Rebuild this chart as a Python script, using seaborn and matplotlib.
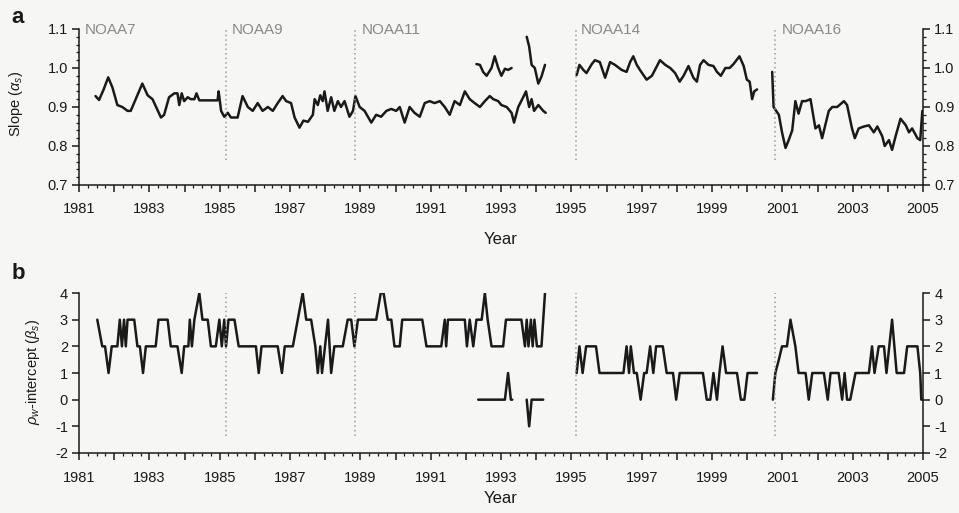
import matplotlib
matplotlib.use("Agg")
import matplotlib.pyplot as plt
import seaborn as sns
import pandas as pd
import numpy as np
from matplotlib.ticker import MultipleLocator, FixedLocator

# ---------------- data (decimal year, value) ----------------
slope_main = [
    (1981.47, 0.928), (1981.57, 0.918), (1981.70, 0.945), (1981.83, 0.976), (1981.95, 0.950),
    (1982.09, 0.905), (1982.23, 0.900), (1982.38, 0.890), (1982.47, 0.890), (1982.80, 0.960),
    (1982.95, 0.930), (1983.09, 0.920), (1983.33, 0.873), (1983.42, 0.880), (1983.56, 0.925),
    (1983.71, 0.935), (1983.80, 0.935), (1983.85, 0.905), (1983.92, 0.935), (1983.99, 0.915),
    (1984.09, 0.925), (1984.18, 0.920), (1984.28, 0.920), (1984.34, 0.935), (1984.42, 0.917),
    (1984.94, 0.917), (1984.97, 0.940), (1985.04, 0.890), (1985.13, 0.875), (1985.23, 0.885),
    (1985.32, 0.873), (1985.51, 0.873), (1985.65, 0.928), (1985.80, 0.900), (1985.94, 0.890),
    (1986.08, 0.910), (1986.22, 0.890), (1986.37, 0.900), (1986.51, 0.890), (1986.65, 0.910),
    (1986.79, 0.928), (1986.89, 0.915), (1987.03, 0.910), (1987.13, 0.873), (1987.27, 0.847),
    (1987.38, 0.865), (1987.51, 0.862), (1987.65, 0.880), (1987.70, 0.920), (1987.79, 0.905),
    (1987.86, 0.930), (1987.93, 0.915), (1987.98, 0.940), (1988.07, 0.890), (1988.17, 0.925),
    (1988.26, 0.890), (1988.36, 0.915), (1988.45, 0.900), (1988.55, 0.915), (1988.69, 0.875),
    (1988.79, 0.890), (1988.86, 0.928), (1988.98, 0.900), (1989.12, 0.890), (1989.31, 0.860),
    (1989.45, 0.880), (1989.59, 0.875), (1989.74, 0.890), (1989.88, 0.895), (1990.02, 0.890),
    (1990.12, 0.900), (1990.26, 0.860), (1990.40, 0.900), (1990.54, 0.885), (1990.69, 0.875),
    (1990.83, 0.910), (1990.97, 0.915), (1991.11, 0.910), (1991.26, 0.915), (1991.40, 0.900),
    (1991.54, 0.880), (1991.68, 0.915), (1991.83, 0.905), (1991.97, 0.940), (1992.11, 0.920),
    (1992.25, 0.910), (1992.40, 0.900), (1992.54, 0.915), (1992.68, 0.928), (1992.78, 0.920),
    (1992.92, 0.915), (1993.01, 0.905), (1993.16, 0.900), (1993.30, 0.885), (1993.37, 0.860),
    (1993.49, 0.900), (1993.63, 0.925), (1993.71, 0.940), (1993.80, 0.900), (1993.87, 0.920),
    (1993.94, 0.890), (1994.06, 0.905), (1994.20, 0.890), (1994.27, 0.885),
]
slope_alt1 = [
    (1992.30, 1.010), (1992.40, 1.008), (1992.49, 0.990), (1992.59, 0.980), (1992.73, 1.000),
    (1992.82, 1.030), (1992.92, 1.000), (1993.01, 0.980), (1993.11, 0.998), (1993.20, 0.995),
    (1993.30, 1.000),
]
slope_alt2 = [
    (1993.73, 1.080), (1993.80, 1.055), (1993.87, 1.008), (1993.96, 1.000), (1994.06, 0.960),
    (1994.15, 0.978), (1994.25, 1.008),
]
slope_n14 = [
    (1995.15, 0.982), (1995.23, 1.008), (1995.34, 0.995), (1995.43, 0.987), (1995.58, 1.010),
    (1995.67, 1.020), (1995.81, 1.015), (1995.96, 0.975), (1996.10, 1.015), (1996.24, 1.008),
    (1996.43, 0.995), (1996.57, 0.990), (1996.67, 1.015), (1996.76, 1.030), (1996.86, 1.008),
    (1996.95, 0.995), (1997.14, 0.970), (1997.29, 0.980), (1997.52, 1.020), (1997.67, 1.008),
    (1997.81, 1.000), (1997.95, 0.987), (1998.08, 0.965), (1998.19, 0.980), (1998.33, 1.005),
    (1998.47, 0.975), (1998.57, 0.965), (1998.66, 1.008), (1998.76, 1.020), (1998.90, 1.008),
    (1999.04, 1.005), (1999.14, 0.990), (1999.25, 0.980), (1999.38, 1.000), (1999.50, 1.000),
    (1999.61, 1.010), (1999.78, 1.030), (1999.90, 1.005), (1999.99, 0.970), (2000.07, 0.965),
    (2000.14, 0.920), (2000.20, 0.940), (2000.28, 0.945),
]
slope_n16 = [
    (2000.71, 0.990), (2000.75, 0.900), (2000.90, 0.880), (2000.99, 0.835), (2001.09, 0.795),
    (2001.18, 0.815), (2001.28, 0.840), (2001.37, 0.915), (2001.46, 0.883), (2001.56, 0.915),
    (2001.66, 0.915), (2001.80, 0.920), (2001.94, 0.845), (2002.04, 0.853), (2002.13, 0.820),
    (2002.23, 0.857), (2002.32, 0.890), (2002.42, 0.900), (2002.56, 0.900), (2002.75, 0.915),
    (2002.84, 0.905), (2002.98, 0.845), (2003.06, 0.820), (2003.17, 0.845), (2003.32, 0.850),
    (2003.46, 0.853), (2003.60, 0.835), (2003.70, 0.850), (2003.84, 0.825), (2003.91, 0.800),
    (2004.03, 0.815), (2004.12, 0.790), (2004.22, 0.825), (2004.36, 0.870), (2004.51, 0.853),
    (2004.60, 0.835), (2004.69, 0.845), (2004.84, 0.820), (2004.92, 0.815), (2004.98, 0.890),
    (2005.00, 0.885),
]

icpt_main = [
    (1981.52, 3), (1981.66, 2), (1981.74, 2), (1981.84, 1), (1981.93, 2), (1982.09, 2),
    (1982.16, 3), (1982.22, 2), (1982.28, 3), (1982.33, 2), (1982.38, 3), (1982.57, 3),
    (1982.66, 2), (1982.73, 2), (1982.82, 1), (1982.90, 2), (1983.18, 2), (1983.26, 3),
    (1983.52, 3), (1983.61, 2), (1983.80, 2), (1983.92, 1), (1983.99, 2), (1984.11, 2),
    (1984.15, 3), (1984.21, 2), (1984.28, 3), (1984.42, 4), (1984.51, 3), (1984.66, 3),
    (1984.75, 2), (1984.89, 2), (1984.99, 3), (1985.06, 2), (1985.13, 3), (1985.18, 2),
    (1985.25, 3), (1985.42, 3), (1985.54, 2), (1986.03, 2), (1986.11, 1), (1986.19, 2),
    (1986.65, 2), (1986.77, 1), (1986.85, 2), (1987.08, 2), (1987.22, 3), (1987.36, 4),
    (1987.46, 3), (1987.60, 3), (1987.72, 2), (1987.79, 1), (1987.86, 2), (1987.91, 1),
    (1988.08, 3), (1988.17, 1), (1988.26, 2), (1988.50, 2), (1988.64, 3), (1988.74, 3),
    (1988.83, 2), (1988.93, 3), (1989.45, 3), (1989.58, 4), (1989.66, 4), (1989.78, 3),
    (1989.88, 3), (1989.97, 2), (1990.12, 2), (1990.19, 3), (1990.76, 3), (1990.88, 2),
    (1991.30, 2), (1991.40, 3), (1991.44, 2), (1991.49, 3), (1991.97, 3), (1992.03, 2),
    (1992.11, 3), (1992.21, 2), (1992.30, 3), (1992.45, 3), (1992.54, 4), (1992.62, 3),
    (1992.73, 2), (1993.06, 2), (1993.14, 3), (1993.58, 3), (1993.68, 2), (1993.73, 3),
    (1993.78, 2), (1993.85, 3), (1993.90, 2), (1993.95, 3), (1994.02, 2), (1994.15, 2),
    (1994.25, 4),
]
icpt_alt1 = [(1992.35, 0), (1993.11, 0), (1993.20, 1), (1993.28, 0), (1993.32, 0)]
icpt_alt2 = [(1993.73, 0), (1993.80, -1), (1993.87, 0), (1994.20, 0)]
icpt_n14 = [
    (1995.15, 1), (1995.23, 2), (1995.32, 1), (1995.42, 2), (1995.70, 2), (1995.80, 1),
    (1996.48, 1), (1996.57, 2), (1996.64, 1), (1996.69, 2), (1996.78, 1), (1996.86, 1),
    (1996.97, 0), (1997.07, 1), (1997.14, 1), (1997.24, 2), (1997.33, 1), (1997.41, 2),
    (1997.60, 2), (1997.71, 1), (1997.89, 1), (1997.98, 0), (1998.08, 1), (1998.74, 1),
    (1998.85, 0), (1998.95, 0), (1999.04, 1), (1999.14, 0), (1999.21, 1), (1999.30, 2),
    (1999.40, 1), (1999.71, 1), (1999.82, 0), (1999.92, 0), (2000.01, 1), (2000.28, 1),
]
icpt_n16 = [
    (2000.73, 0), (2000.80, 1), (2000.90, 1.5), (2000.99, 2), (2001.13, 2), (2001.23, 3),
    (2001.37, 2), (2001.46, 1), (2001.66, 1), (2001.75, 0), (2001.85, 1), (2002.18, 1),
    (2002.29, 0), (2002.37, 1), (2002.60, 1), (2002.70, 0), (2002.77, 1), (2002.84, 0),
    (2002.93, 0), (2003.08, 1), (2003.46, 1), (2003.55, 2), (2003.62, 1), (2003.74, 2),
    (2003.89, 2), (2003.96, 1), (2004.12, 3), (2004.25, 1), (2004.46, 1), (2004.55, 2),
    (2004.84, 2), (2004.92, 1), (2004.95, 0), (2005.00, 0),
]

satellites = ["NOAA7", "NOAA9", "NOAA11", "NOAA14", "NOAA16"]
satellite_label_years = [1981.17, 1985.33, 1989.03, 1995.28, 2000.97]
switch_years = [1985.18, 1988.86, 1995.12, 2000.80]
year_ticks_labelled = list(range(1981, 2006, 2))


def to_frame(segments):
    rows = []
    for k, seg in enumerate(segments):
        for yr, v in seg:
            rows.append({"year": yr, "value": v, "seg": k})
    return pd.DataFrame(rows)


df_a = to_frame([slope_main, slope_alt1, slope_alt2, slope_n14, slope_n16])
df_b = to_frame([icpt_main, icpt_alt1, icpt_alt2, icpt_n14, icpt_n16])

# ---------------- style ----------------
sns.set_theme(style="ticks")
plt.rcParams["font.family"] = ["Liberation Sans", "DejaVu Sans"]
plt.rcParams["mathtext.fontset"] = "custom"
plt.rcParams["mathtext.it"] = "Liberation Sans:italic"
plt.rcParams["mathtext.rm"] = "Liberation Sans"
plt.rcParams["axes.unicode_minus"] = False

ink = "#1a1a1a"
bg = "#f6f6f4"
fig = plt.figure(figsize=(9.59, 5.13), dpi=100, facecolor=bg)
ax_a = fig.add_axes([0.0824, 0.6394, 0.8801, 0.3041])
ax_b = fig.add_axes([0.0824, 0.1170, 0.8801, 0.3118])

panels = [
    (ax_a, df_a, (0.7, 1.1), r"Slope ($\alpha_s$)", 7, 12, (-0.064, 0.52)),
    (ax_b, df_b, (-2, 4), r"$\rho_w$-intercept ($\beta_s$)", 8, 4, (-0.044, 0.506)),
]
for ax, df, ylim, label, xpad, xlabpad, ylab_xy in panels:
    ax.set_facecolor(bg)
    sns.lineplot(data=df, x="year", y="value", units="seg", estimator=None,
                 color=ink, linewidth=1.8, ax=ax, sort=False)
    ax.set_xlim(1981, 2005)
    ax.set_ylim(*ylim)
    ax.spines["top"].set_visible(False)
    for s in ["left", "right", "bottom"]:
        ax.spines[s].set_visible(True)
        ax.spines[s].set_linewidth(1.1)
        ax.spines[s].set_color(ink)
    ax.xaxis.set_minor_locator(MultipleLocator(0.25))
    ax.set_xticks(range(1981, 2006))
    ax.set_xticklabels([str(y) if y in year_ticks_labelled else "" for y in range(1981, 2006)])
    ax.tick_params(axis="both", which="major", direction="out", length=5, width=1.1,
                   labelsize=10.5, colors=ink, pad=3)
    ax.tick_params(axis="x", which="major", pad=xpad)
    ax.tick_params(axis="both", which="minor", direction="out", length=2.5, width=0.9,
                   colors=ink)
    ax.tick_params(axis="y", left=True, right=True, labelleft=True, labelright=True)
    ax.tick_params(axis="y", which="minor", left=True, right=True)
    ax.set_xlabel("Year", fontsize=12, labelpad=xlabpad, color=ink)
    ax.set_ylabel(label, fontsize=10.5, color=ink)
    ax.yaxis.set_label_coords(*ylab_xy)

ax_a.set_yticks([0.7, 0.8, 0.9, 1.0, 1.1])
ax_a.yaxis.set_major_formatter(matplotlib.ticker.FormatStrFormatter("%.1f"))
ax_a.yaxis.set_minor_locator(MultipleLocator(0.02))
ax_b.set_yticks([-2, -1, 0, 1, 2, 3, 4])
ax_b.yaxis.set_minor_locator(FixedLocator([]))

# satellite switch markers
ax_a.vlines(switch_years, 0.765, 1.1, colors="#9a9a9a", linestyles=(0, (1, 2)), linewidth=1.1)
ax_b.vlines(switch_years, -1.35, 4.0, colors="#9a9a9a", linestyles=(0, (1, 2)), linewidth=1.1)
for name, yr in zip(satellites, satellite_label_years):
    ax_a.text(yr, 1.097, name, fontsize=11, color="#8a8a8a", ha="left", va="center")

fig.text(0.012, 0.965, "a", fontsize=16, fontweight="bold", color=ink, va="center")
fig.text(0.012, 0.466, "b", fontsize=16, fontweight="bold", color=ink, va="center")

fig.savefig("out.png", dpi=100, facecolor=bg)
